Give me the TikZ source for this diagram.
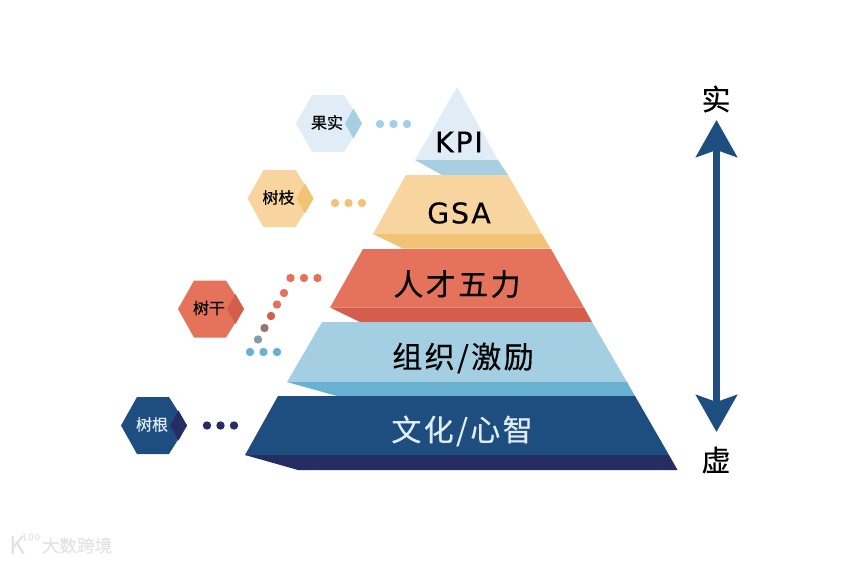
\documentclass[tikz,border=0pt]{standalone}
\usepackage{fontspec}
\usetikzlibrary{arrows.meta}
\setmainfont{DejaVu Sans}
\newfontfamily\latinfont[LetterSpace=6,FakeBold=0.25]{DejaVu Sans}
\newfontfamily\cjkfont[FakeBold=0.35]{Noto Sans CJK SC}
\newfontfamily\cjkwide[LetterSpace=8,FakeBold=0.35]{Noto Sans CJK SC}
\definecolor{kpiA}{HTML}{E0ECF6}
\definecolor{kpiB}{HTML}{A6CFE2}
\definecolor{gsaA}{HTML}{F8D59F}
\definecolor{gsaB}{HTML}{F2C277}
\definecolor{redA}{HTML}{E5735C}
\definecolor{redB}{HTML}{D45D4C}
\definecolor{skyA}{HTML}{A4CEE1}
\definecolor{skyB}{HTML}{68B1D2}
\definecolor{navyA}{HTML}{1E4D80}
\definecolor{navyB}{HTML}{262D62}
\tikzset{
 tierlabel/.style={inner sep=0pt,font=\cjkwide\fontsize{30}{32}\selectfont},
 latinlabel/.style={inner sep=0pt,font=\latinfont\fontsize{28.5}{30}\selectfont},
 hexlabel/.style={inner sep=0pt,font=\cjkfont\fontsize{16}{18}\selectfont},
 endlabel/.style={inner sep=0pt,font=\cjkfont\fontsize{29}{30}\selectfont},
 markfont/.style={inner sep=0pt,text=black!11,font=\cjkfont\fontsize{17.5}{19}\selectfont},
 bigarrow/.style={draw=navyA,line width=7pt,{Stealth[length=37pt,width=41pt,inset=7pt]}-{Stealth[length=37pt,width=41pt,inset=7pt]}}
}
\begin{document}
\begin{tikzpicture}[x=1pt,y=-1pt]
 \useasboundingbox (0,0) rectangle (851,562);
 \fill[kpiA] (457,87)--(415,160)--(498,160)--cycle;
 \fill[kpiB] (415,160)--(498,160)--(508,175)--(442,175)--cycle;
 \fill[gsaA] (406,175)--(508,175)--(542,234)--(373,234)--cycle;
 \fill[gsaB] (373,234)--(542,234)--(550.5,248.5)--(403,248.5)--cycle;
 \fill[redA] (363,249)--(551,249)--(584,307.5)--(330,307.5)--cycle;
 \fill[redB] (330,307.5)--(584,307.5)--(592,322)--(360,322)--cycle;
 \fill[skyA] (322,322)--(592,322)--(627,382)--(287,382)--cycle;
 \fill[skyB] (287,382)--(627,382)--(635,396)--(337,396)--cycle;
 \fill[navyA] (278,396)--(635,396)--(669,455)--(245,455)--cycle;
 \fill[navyB] (245,455)--(669,455)--(677.5,470)--(298,470)--cycle;
 \node[latinlabel] (kpi) at (459,142) {KPI};
 \node[latinlabel] (gsa) at (459,213) {GSA};
 \node[tierlabel] (talent) at (457,284) {人才五力};
 \node[tierlabel] (org) at (463,358) {组织/激励};
 \node[tierlabel,text=kpiA] (culture) at (462,431) {文化/心智};
 \foreach \cx/\cy/\fa/\fb/\tc/\nm/\tx in {329/123.5/kpiA/kpiB/black/fruit/果实,
   280.5/198.5/gsaA/gsaB/black/branch/树枝,
   211/309/redA/redB/black/trunk/树干,
   154/425.5/navyA/navyB/kpiA/root/树根} {
  \fill[\fa] (\cx-33,\cy)--(\cx-17,\cy-28.5)--(\cx+15,\cy-28.5)--(\cx+33,\cy)--(\cx+15,\cy+28.5)--(\cx-17,\cy+28.5)--cycle;
  \fill[\fb] (\cx+16,\cy)--(\cx+24.5,\cy-15)--(\cx+33,\cy)--(\cx+24.5,\cy+15)--cycle;
  \node[hexlabel,text=\tc] (\nm) at (\cx-2,\cy-1) {\tx};
 }
 \foreach \x/\y/\c in {380/124/kpiB,393.5/124/kpiB,407/124/kpiB,
   335/203/gsaB,348.5/203/gsaB,362/203/gsaB,
   317.5/278/redA,304/278/redA,290.5/278/redA,284/293/redA,277/304.5/redA,271/316/redB,
   207/425.5/navyB,220.5/425.5/navyB,234/425.5/navyB,
   250/352/skyB,263.5/352/skyB,277/352/skyB} {
  \fill[\c] (\x,\y) circle (4.2);
 }
 \fill[redB!55!skyA!80!black] (264.5,328) circle (4.2);
 \fill[skyB!75!redB] (258,339.5) circle (4.2);
 \node[endlabel] (real) at (716,99) {实};
 \node[endlabel] (virtual) at (716,460) {虚};
 \coordinate (uptip) at (716.5,120);
 \coordinate (downtip) at (716.5,432);
 \draw[bigarrow] (uptip)--(downtip);
 \node[markfont] (mark) at (77,545.5) {大数跨境};
 \node[inner sep=0pt,text=black!11,font=\cjkfont\fontsize{24}{24}\selectfont] (markk) at (17,545) {K};
 \node[inner sep=0pt,text=black!11,font=\latinfont\fontsize{9}{9}\selectfont] (markn) at (31,537) {100};
\end{tikzpicture}
\end{document}
